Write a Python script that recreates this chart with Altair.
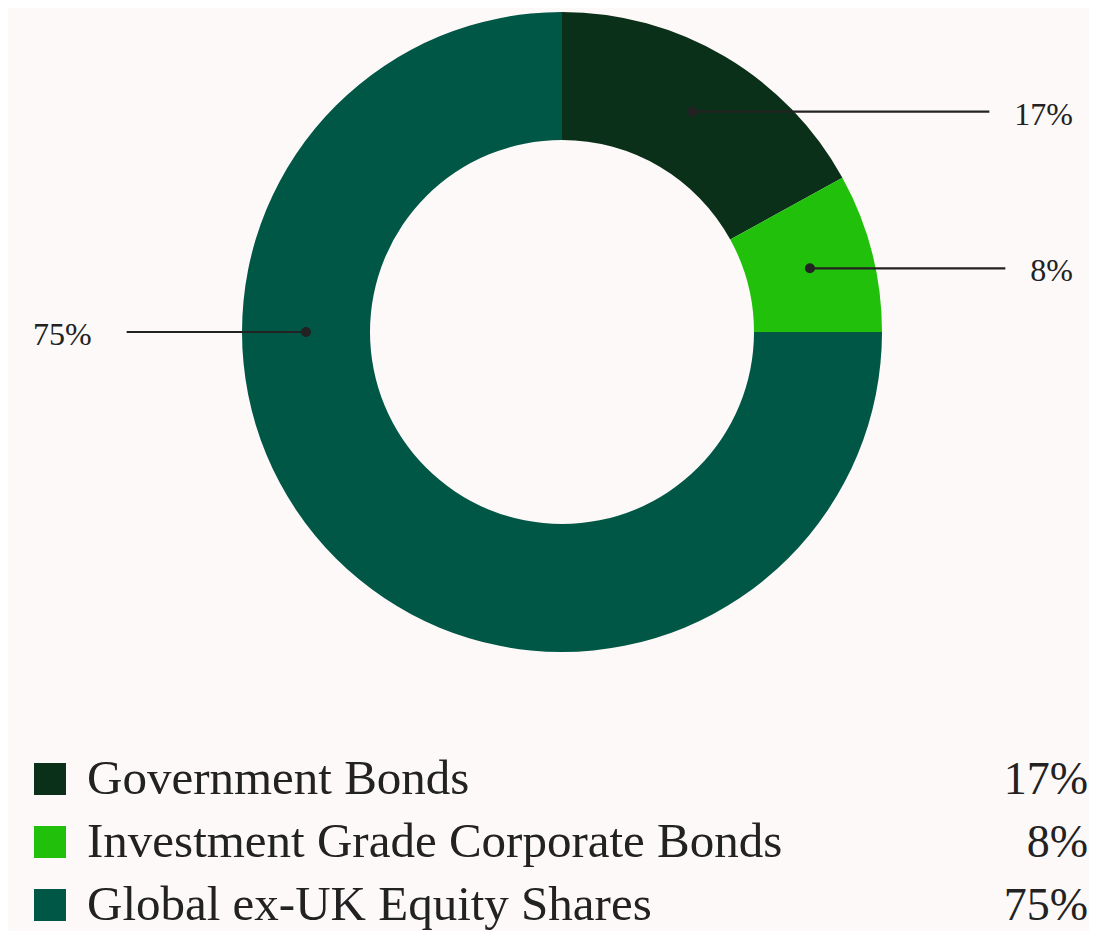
import math
import altair as alt
import pandas as pd

categories = ["Government Bonds", "Investment Grade Corporate Bonds", "Global ex-UK Equity Shares"]
values = [17, 8, 75]
labels = ["17%", "8%", "75%"]
colors = ["#0b3019", "#21c00b", "#005746"]

BG = "#fdf9f8"
INK = "#222222"
FONT = "Liberation Serif"
W, H = 1081, 923
CX, CY = 554, 324
R_OUT, R_IN = 320, 192
R_ANCHOR = (R_OUT + R_IN) / 2
LBL_SIZE = 32
LEG_SIZE = 49
PCT_SIZE = 46


def text_w(s, size):
    return sum(0.833 if ch == "%" else 0.5 for ch in s) * size


total = sum(values)
rows = []
cum = 0
for i, (c, v, l) in enumerate(zip(categories, values, labels)):
    start, end = cum / total, (cum + v) / total
    cum += v
    frac = v / total
    mid = 0.75 if frac > 0.5 else (start + end) / 2
    ang = 2 * math.pi * mid
    ax = CX + R_ANCHOR * math.sin(ang)
    ay = CY - R_ANCHOR * math.cos(ang)
    tw = text_w(l, LBL_SIZE)
    if math.sin(ang) >= 0:
        tx, align = 1065, "right"
        lx2 = tx - tw - 25
    else:
        tx, align = 25, "left"
        lx2 = tx + tw + 35
    rows.append(dict(cat=c, val=v, label=l, idx=i, ax=ax, ay=ay, lx2=lx2,
                     tx=tx, align=align, ty=ay + 3,
                     ly=771 + 63 * i, lty=786 + 63 * i))
df = pd.DataFrame(rows)

color = alt.Color("cat:N", scale=alt.Scale(domain=categories, range=colors), legend=None)

donut = alt.Chart(df).mark_arc(outerRadius=R_OUT, innerRadius=R_IN, stroke=None).encode(
    theta=alt.Theta("val:Q", stack=True),
    order=alt.Order("idx:Q"),
    color=color,
    x=alt.value(CX),
    y=alt.value(CY),
)

leader = alt.Chart(df).mark_rule(color=INK, strokeWidth=2.2).encode(
    x=alt.X("ax:Q", scale=None), x2="lx2:Q",
    y=alt.Y("ay:Q", scale=None),
)

dots = alt.Chart(df).mark_circle(color=INK, size=100, opacity=1).encode(
    x=alt.X("ax:Q", scale=None), y=alt.Y("ay:Q", scale=None),
)

lbl_r = alt.Chart(df[df["align"] == "right"]).mark_text(
    font=FONT, fontSize=LBL_SIZE, color=INK, align="right", baseline="middle"
).encode(x=alt.X("tx:Q", scale=None), y=alt.Y("ty:Q", scale=None), text="label:N")

lbl_l = alt.Chart(df[df["align"] == "left"]).mark_text(
    font=FONT, fontSize=LBL_SIZE, color=INK, align="left", baseline="middle"
).encode(x=alt.X("tx:Q", scale=None), y=alt.Y("ty:Q", scale=None), text="label:N")

leg_sq = alt.Chart(df).mark_square(size=1024, opacity=1).encode(
    x=alt.value(42), y=alt.Y("ly:Q", scale=None), color=color,
)

leg_txt = alt.Chart(df).mark_text(
    font=FONT, fontSize=LEG_SIZE, color=INK, align="left", baseline="alphabetic"
).encode(x=alt.value(79), y=alt.Y("lty:Q", scale=None), text="cat:N")

leg_pct = alt.Chart(df).mark_text(
    font=FONT, fontSize=PCT_SIZE, color=INK, align="right", baseline="alphabetic"
).encode(x=alt.value(1080), y=alt.Y("lty:Q", scale=None), text="label:N")

chart = alt.layer(donut, leader, dots, lbl_r, lbl_l, leg_sq, leg_txt, leg_pct).properties(
    width=W, height=H, background=BG, padding=0, autosize="none"
).configure_view(stroke=None)

chart.save("out.html", embed_options={"renderer": "svg", "actions": False})
